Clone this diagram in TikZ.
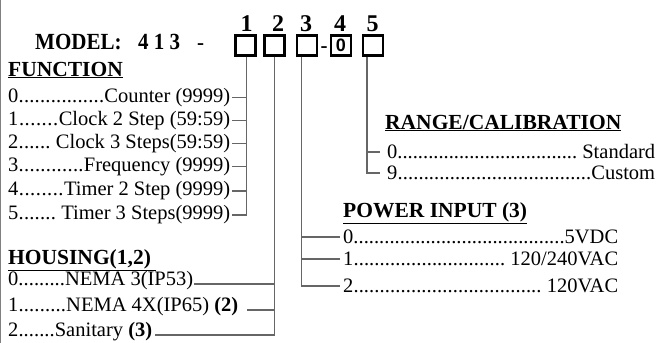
\documentclass[tikz,border=0pt]{standalone}
\usepackage{fontspec}
\setmainfont{Liberation Serif}
\newfontfamily\sansbold{Liberation Sans}
\usetikzlibrary{positioning}
\newcommand\lead{\xleaders\hbox{.}\hfill}
\newcommand\entry[3]{\makebox[#1pt]{#2\lead #3}}

\begin{document}
\begin{tikzpicture}[x=1pt,y=-1pt,
    every node/.style={inner sep=0pt},
    txt/.style={anchor=west,font=\fontsize{20.5}{22}\selectfont},
    hd/.style={anchor=west,font=\fontsize{21.5}{23}\selectfont\bfseries},
    big/.style={anchor=base west,font=\fontsize{21}{24}\selectfont\bfseries},
    box/.style={draw,line width=2.4pt,minimum width=20pt,minimum height=20pt},
    wire/.style={black!60,line width=1.2pt}]
    \useasboundingbox (0,0) rectangle (662,343);
    \draw[black!50,line width=1.2pt] (0.6,0) -- (0.6,343);

    % order code
    \node[big,yscale=1.1] (model) at (35,49) {MODEL:};
    \node[big,yscale=1.1] (code) at (138,49) {4 1 3};
    \node[big] (dasha) at (197,49) {-};
    \foreach \x/\y/\k in {245.5/246.7/1,274.5/278/2,307/306/3,341/340/4,373/372.7/5} {
        \node[box] (b\k) at (\x,45.5) {};
        \node[anchor=base,font=\fontsize{24}{24}\selectfont\bfseries] (d\k) at (\y,31) {\k};
    }
    \node[font=\sansbold\fontsize{18}{18}\selectfont\bfseries] (zero) at (b4) {0};
    \node[big,anchor=base] (dashb) at (324,52) {-};
    \coordinate (v1) at ([xshift=1pt]b1.south);
    \coordinate (v2) at (b2.south);
    \coordinate (v3) at ([xshift=-5.5pt]b3.south);
    \coordinate (v5) at ([xshift=-6pt]b5.south);

    % function
    \node[hd] (fun) at (8,70) {\underline{FUNCTION}};
    \foreach \y/\k/\t in {97.3/0/Counter (9999),120.7/1/Clock 2 Step (59:59),
        143.3/2/\ Clock 3 Steps(59:59),166.7/3/Frequency (9999),
        191/4/Timer 2 Step (9999),215/5/\ Timer 3 Steps(9999)}
        \node[txt] (f\k) at (8,\y) {\entry{222}{\k}{\t}};
    \draw[wire] (v1) |- ([xshift=2pt]f5.east);
    \foreach \k in {0,1,2,3,4}
        \draw[wire] ([xshift=2pt]f\k.east) -- (f\k.east -| v1);

    % housing
    \node[hd] (hous) at (8,260) {\underline{HOUSING(1,2)\ }};
    \foreach \y/\k/\w/\t in {281/0/185/NEMA 3(IP53),307/1/230/NEMA 4X(IP65) \textbf{(2)},
        332/2/144/Sanitary \textbf{(3)}}
        \node[txt] (h\k) at (8,\y) {\entry{\w}{\k}{\t}};
    \draw[wire] (v2) |- ([xshift=3pt,yshift=-3pt]h2.east);
    \draw[wire] ([xshift=1pt,yshift=-3pt]h0.east) -- ([yshift=-3pt]h0.east -| v2);
    \draw[wire] ([xshift=9pt,yshift=-3pt]h1.east) -- ([yshift=-3pt]h1.east -| v2);

    % power input
    \node[hd] (pow) at (343,213) {\underline{POWER INPUT (3)}};
    \foreach \y/\k/\t in {237/0/5VDC,259/1/{\ 120/240VAC},286/2/{\ 120VAC}}
        \node[txt] (p\k) at (343,\y) {\entry{275}{\k}{\t}};
    \draw[wire] (v3) |- ([xshift=-3pt]p2.west);
    \foreach \k in {0,1}
        \draw[wire] ([xshift=-3pt]p\k.west) -- (p\k.west -| v3);

    % range
    \node[hd] (rng) at (385,123) {\underline{RANGE/CALIBRATION}};
    \foreach \y/\k/\t in {152/0/\ Standard,173/9/Custom}
        \node[txt] (r\k) at (387,\y) {\entry{268}{\k}{\t}};
    \draw[wire] (v5) |- ([xshift=-7pt]r9.west);
    \draw[wire] ([xshift=-7pt]r0.west) -- (r0.west -| v5);
\end{tikzpicture}
\end{document}
